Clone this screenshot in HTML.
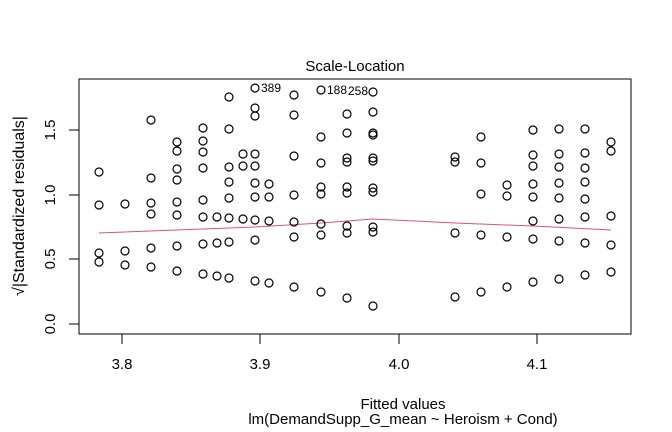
<!DOCTYPE html>
<html><head><style>body{margin:0;background:#fff}svg{display:block}text{font-family:"Liberation Sans",Arial,sans-serif}</style></head>
<body>
<svg width="672" height="432" viewBox="0 0 672 432" xmlns="http://www.w3.org/2000/svg">
<rect x="0" y="0" width="672" height="432" fill="#fff"/>
<rect x="79" y="79" width="552" height="255" fill="none" stroke="#000" stroke-width="1"/>
<text x="355" y="71" font-size="15" text-anchor="middle">Scale-Location</text>
<g stroke="#000" stroke-width="1">
<line x1="122" y1="334" x2="122" y2="344"/><line x1="260" y1="334" x2="260" y2="344"/>
<line x1="399" y1="334" x2="399" y2="344"/><line x1="537" y1="334" x2="537" y2="344"/>
<line x1="79" y1="324" x2="69" y2="324"/><line x1="79" y1="259" x2="69" y2="259"/>
<line x1="79" y1="195" x2="69" y2="195"/><line x1="79" y1="130" x2="69" y2="130"/>
</g>
<g font-size="15" text-anchor="middle">
<text x="122" y="369">3.8</text><text x="260" y="369">3.9</text><text x="399" y="369">4.0</text><text x="537" y="369">4.1</text>
<text x="403" y="409">Fitted values</text>
<text x="403" y="424">lm(DemandSupp_G_mean ~ Heroism + Cond)</text>
<text transform="translate(55,324) rotate(-90)">0.0</text>
<text transform="translate(55,259) rotate(-90)">0.5</text>
<text transform="translate(55,195) rotate(-90)">1.0</text>
<text transform="translate(55,130) rotate(-90)">1.5</text>
<text transform="translate(24,206) rotate(-90)" font-size="16">√|Standardized residuals|</text>
</g>
<polyline points="99,233 229,228 255,227 321,223 373,219 455,223 533,226 611,230" fill="none" stroke="#DF536B" stroke-width="1"/>
<g fill="none" stroke="#000" stroke-width="1.2">
<circle cx="99" cy="172" r="4"/><circle cx="99" cy="205" r="4"/><circle cx="99" cy="253" r="4"/><circle cx="99" cy="262" r="4"/>
<circle cx="125" cy="204" r="4"/><circle cx="125" cy="251" r="4"/><circle cx="125" cy="265" r="4"/>
<circle cx="151" cy="120" r="4"/><circle cx="151" cy="178" r="4"/><circle cx="151" cy="203" r="4"/><circle cx="151" cy="214" r="4"/><circle cx="151" cy="248" r="4"/><circle cx="151" cy="267" r="4"/>
<circle cx="177" cy="142" r="4"/><circle cx="177" cy="151" r="4"/><circle cx="177" cy="169" r="4"/><circle cx="177" cy="180" r="4"/><circle cx="177" cy="202" r="4"/><circle cx="177" cy="215" r="4"/><circle cx="177" cy="246" r="4"/><circle cx="177" cy="271" r="4"/>
<circle cx="203" cy="128" r="4"/><circle cx="203" cy="141" r="4"/><circle cx="203" cy="152" r="4"/><circle cx="203" cy="168" r="4"/><circle cx="203" cy="200" r="4"/><circle cx="203" cy="217" r="4"/><circle cx="203" cy="244" r="4"/><circle cx="203" cy="274" r="4"/>
<circle cx="217" cy="217" r="4"/><circle cx="217" cy="243" r="4"/><circle cx="217" cy="276" r="4"/>
<circle cx="229" cy="97" r="4"/><circle cx="229" cy="129" r="4"/><circle cx="229" cy="167" r="4"/><circle cx="229" cy="182" r="4"/><circle cx="229" cy="198" r="4"/><circle cx="229" cy="218" r="4"/><circle cx="229" cy="242" r="4"/><circle cx="229" cy="278" r="4"/>
<circle cx="243" cy="154" r="4"/><circle cx="243" cy="166" r="4"/><circle cx="243" cy="219" r="4"/>
<circle cx="255" cy="88" r="4"/><circle cx="255" cy="108" r="4"/><circle cx="255" cy="116" r="4"/><circle cx="255" cy="154" r="4"/><circle cx="255" cy="166" r="4"/><circle cx="255" cy="183" r="4"/><circle cx="255" cy="197" r="4"/><circle cx="255" cy="220" r="4"/><circle cx="255" cy="240" r="4"/><circle cx="255" cy="281" r="4"/>
<circle cx="269" cy="184" r="4"/><circle cx="269" cy="197" r="4"/><circle cx="269" cy="221" r="4"/><circle cx="269" cy="283" r="4"/>
<circle cx="294" cy="95" r="4"/><circle cx="294" cy="115" r="4"/><circle cx="294" cy="156" r="4"/><circle cx="294" cy="195" r="4"/><circle cx="294" cy="222" r="4"/><circle cx="294" cy="237" r="4"/><circle cx="294" cy="287" r="4"/>
<circle cx="321" cy="90" r="4"/><circle cx="321" cy="137" r="4"/><circle cx="321" cy="163" r="4"/><circle cx="321" cy="187" r="4"/><circle cx="321" cy="194" r="4"/><circle cx="321" cy="224" r="4"/><circle cx="321" cy="235" r="4"/><circle cx="321" cy="292" r="4"/>
<circle cx="347" cy="114" r="4"/><circle cx="347" cy="133" r="4"/><circle cx="347" cy="158" r="4"/><circle cx="347" cy="162" r="4"/><circle cx="347" cy="187" r="4"/><circle cx="347" cy="193" r="4"/><circle cx="347" cy="226" r="4"/><circle cx="347" cy="233" r="4"/><circle cx="347" cy="298" r="4"/>
<circle cx="373" cy="92" r="4"/><circle cx="373" cy="112" r="4"/><circle cx="373" cy="133" r="4"/><circle cx="373" cy="135" r="4"/><circle cx="373" cy="158" r="4"/><circle cx="373" cy="161" r="4"/><circle cx="373" cy="188" r="4"/><circle cx="373" cy="192" r="4"/><circle cx="373" cy="227" r="4"/><circle cx="373" cy="232" r="4"/><circle cx="373" cy="306" r="4"/>
<circle cx="455" cy="157" r="4"/><circle cx="455" cy="162" r="4"/><circle cx="455" cy="233" r="4"/><circle cx="455" cy="297" r="4"/>
<circle cx="481" cy="137" r="4"/><circle cx="481" cy="163" r="4"/><circle cx="481" cy="194" r="4"/><circle cx="481" cy="235" r="4"/><circle cx="481" cy="292" r="4"/>
<circle cx="507" cy="185" r="4"/><circle cx="507" cy="196" r="4"/><circle cx="507" cy="237" r="4"/><circle cx="507" cy="287" r="4"/>
<circle cx="533" cy="130" r="4"/><circle cx="533" cy="155" r="4"/><circle cx="533" cy="166" r="4"/><circle cx="533" cy="184" r="4"/><circle cx="533" cy="197" r="4"/><circle cx="533" cy="221" r="4"/><circle cx="533" cy="239" r="4"/><circle cx="533" cy="282" r="4"/>
<circle cx="559" cy="129" r="4"/><circle cx="559" cy="154" r="4"/><circle cx="559" cy="167" r="4"/><circle cx="559" cy="183" r="4"/><circle cx="559" cy="198" r="4"/><circle cx="559" cy="219" r="4"/><circle cx="559" cy="241" r="4"/><circle cx="559" cy="279" r="4"/>
<circle cx="585" cy="129" r="4"/><circle cx="585" cy="153" r="4"/><circle cx="585" cy="168" r="4"/><circle cx="585" cy="182" r="4"/><circle cx="585" cy="199" r="4"/><circle cx="585" cy="217" r="4"/><circle cx="585" cy="243" r="4"/><circle cx="585" cy="275" r="4"/>
<circle cx="611" cy="142" r="4"/><circle cx="611" cy="151" r="4"/><circle cx="611" cy="216" r="4"/><circle cx="611" cy="245" r="4"/><circle cx="611" cy="272" r="4"/>
</g>
<g font-size="12">
<text x="261" y="92">389</text><text x="327" y="94">188</text><text x="348" y="95">258</text>
</g>
</svg>
</body></html>
